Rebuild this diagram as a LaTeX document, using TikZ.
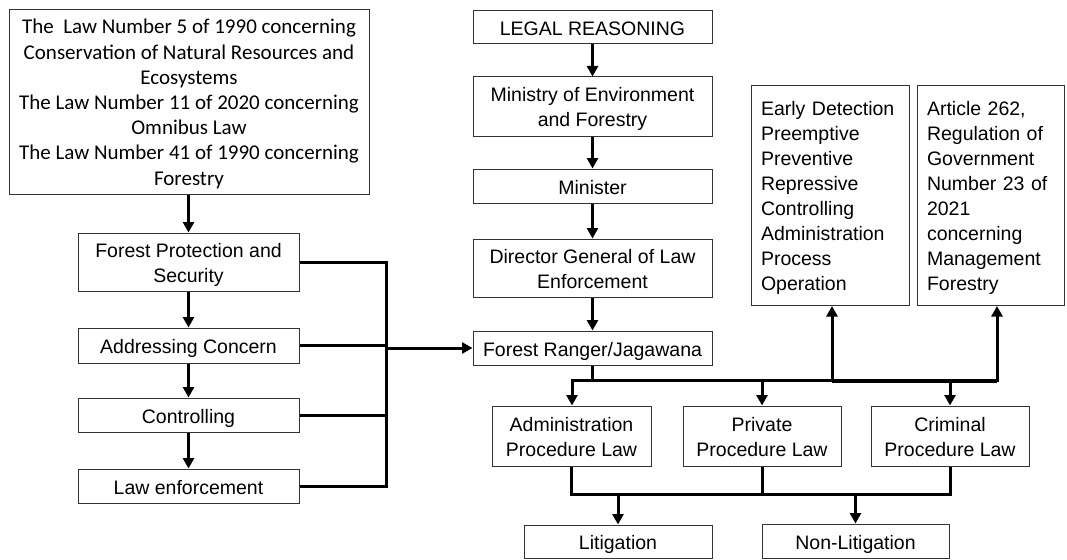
\documentclass[tikz,border=0pt]{standalone}
\usepackage{fontspec}
\setmainfont{Liberation Sans}
\newfontfamily\calib{Carlito}
\usetikzlibrary{arrows.meta}
% lowered multi-line text block (box dimensions kept)
\newcommand{\btext}[3]{\raisebox{-#1}[\height][\depth]{\begin{tabular}{@{}#2@{}}#3\end{tabular}}}
\begin{document}
\begin{tikzpicture}[x=1pt,y=-1pt,
  box/.style={draw=black!80, line width=1pt, inner sep=0pt,
    font=\fontsize{19.5}{25}\selectfont},
  lbox/.style={draw=black!80, line width=1pt, inner sep=10pt,
    font=\fontsize{19.5}{25}\selectfont, minimum height=211pt},
  link/.style={line width=3pt, line join=miter},
  arr/.style={line width=3pt, line join=miter, -{Triangle[width=11pt,length=10.5pt]}},
]
\useasboundingbox (0,0) rectangle (1067,559);

% left column
\node[box, minimum width=360pt, minimum height=184pt,
  font=\calib\fontsize{21}{25.2}\selectfont] (laws) at (189,102)
  {\btext{2.5pt}{c}{The\ \ Law Number 5 of 1990 concerning\\Conservation of Natural Resources and\\Ecosystems\\The Law Number 11 of 2020 concerning\\Omnibus Law\\The Law Number 41 of 1990 concerning\\Forestry}};
\node[box, minimum width=221pt, minimum height=58pt] (fps) at (188.5,262) {\btext{3pt}{c}{Forest Protection and\\Security}};
\node[box, minimum width=221pt, minimum height=35pt] (addr) at (188.5,345.5) {\btext{3pt}{c}{Addressing Concern}};
\node[box, minimum width=221pt, minimum height=34pt] (ctrl) at (188.5,415) {\btext{3pt}{c}{Controlling}};
\node[box, minimum width=221pt, minimum height=34pt] (lawe) at (188.5,486) {\btext{3pt}{c}{Law enforcement}};

% centre column
\node[box, minimum width=239pt, minimum height=33pt] (legal) at (592.5,27.5) {\btext{3pt}{c}{LEGAL REASONING}};
\node[box, minimum width=239pt, minimum height=59pt] (minenv) at (592.5,106.5) {\btext{3pt}{c}{Ministry of Environment\\and Forestry}};
\node[box, minimum width=239pt, minimum height=34pt] (minister) at (592.5,186) {\btext{3pt}{c}{Minister}};
\node[box, minimum width=239pt, minimum height=58pt] (dg) at (592.5,268) {\btext{3pt}{c}{Director General of Law\\Enforcement}};
\node[box, minimum width=239pt, minimum height=34pt] (ranger) at (592.5,348) {\btext{3pt}{c}{Forest Ranger/Jagawana}};

% right boxes
\node[lbox, text width=138pt] (early) at (830,195.5)
  {\btext{2pt}{l}{Early Detection\\Preemptive\\Preventive\\Repressive\\Controlling\\Administration\\Process\\Operation}};
\node[lbox, text width=127pt] (article) at (990.5,195.5)
  {\btext{2pt}{l}{Article 262,\\Regulation of\\Government\\Number 23 of\\2021\\concerning\\Management\\Forestry}};

% procedure law boxes
\node[box, minimum width=159pt, minimum height=60pt] (admin) at (571.5,436) {\btext{3pt}{c}{Administration\\Procedure Law}};
\node[box, minimum width=158pt, minimum height=60pt] (private) at (762,436) {\btext{3pt}{c}{Private\\Procedure Law}};
\node[box, minimum width=158pt, minimum height=60pt] (criminal) at (950,436) {\btext{3pt}{c}{Criminal\\Procedure Law}};

% outcome boxes
\node[box, minimum width=188pt, minimum height=33pt] (litig) at (618,541.5) {\btext{3pt}{c}{Litigation}};
\node[box, minimum width=187pt, minimum height=34pt] (nonlit) at (855.5,541) {\btext{3pt}{c}{Non-Litigation}};

% left column arrows
\draw[arr] (fps.north |- laws.south) -- (fps.north);
\draw[arr] (fps) -- (addr);
\draw[arr] (addr) -- (ctrl);
\draw[arr] (ctrl) -- (lawe);

% left bus
\coordinate (lb) at (386,348);
\draw[link] (fps.east) -- (fps.east -| lb) -- (lawe.east -| lb) -- (lawe.east);
\draw[link] (addr.east) -- (addr.east -| lb);
\draw[link] (ctrl.east) -- (ctrl.east -| lb);
\draw[arr] (lb) -- (ranger.west);

% centre arrows
\draw[arr] (legal) -- (minenv);
\draw[arr] (minenv) -- (minister);
\draw[arr] (minister) -- (dg);
\draw[arr] (dg) -- (ranger);

% right bus
\coordinate (busL) at (572,380);
\coordinate (busR) at (997,380);
\coordinate (eU) at (832,380);
\draw[link] (ranger.south) -- (ranger.south |- busL);
\draw[arr] (ranger.south |- busL) -- (busL) -- (busL |- admin.north);
\draw[arr] (ranger.south |- busL) -- (busR) -- (busR |- article.south);
\draw[link] ([yshift=-1.5pt]eU) -- ([yshift=-1.5pt]busR);
\draw[arr] (private.north |- busL) -- (private.north);
\draw[arr] (criminal.north |- busL) -- (criminal.north);
\draw[arr] (eU) -- (eU |- early.south);

% bottom bus
\coordinate (bl) at (572,494);
\draw[link] (admin.south) -- (admin.south |- bl) -- (criminal.south |- bl) -- (criminal.south);
\draw[link] (private.south) -- (private.south |- bl);
\draw[arr] (litig.north |- bl) -- (litig.north);
\draw[arr] (nonlit.north |- bl) -- (nonlit.north);
\end{tikzpicture}
\end{document}
